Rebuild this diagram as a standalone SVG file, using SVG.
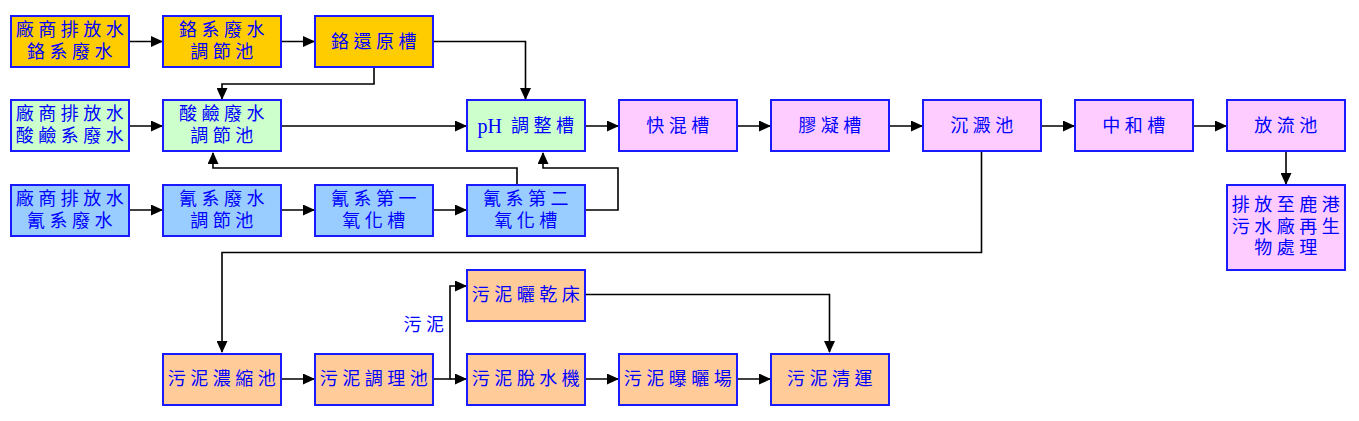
<svg xmlns="http://www.w3.org/2000/svg" width="1359" height="421" viewBox="0 0 1359 421">
<style>
.b{stroke:#1a1aff;stroke-width:2}
.cr{fill:#ffcc00}.ac{fill:#ccffcc}.cy{fill:#99ccff}.pk{fill:#ffccff}.sl{fill:#ffcc99}
text{font-family:"Liberation Serif","Noto Sans CJK TC",serif;font-size:18px;fill:#0000ff;text-anchor:middle;dominant-baseline:central;letter-spacing:4.5px}
.c path{fill:none;stroke:#000;stroke-width:1.6}
</style>
<defs>
<marker id="a" markerUnits="userSpaceOnUse" markerWidth="12" markerHeight="11" refX="11" refY="5.5" orient="auto"><path d="M0,0 L12,5.5 L0,11 Z" fill="#000"/></marker>
</defs>
<g class="c">
<path d="M129,41.5 H162" marker-end="url(#a)"/>
<path d="M281,41.5 H314" marker-end="url(#a)"/>
<path d="M433,41.5 H525.5 V99" marker-end="url(#a)"/>
<path d="M374,67 V84 H222 V99" marker-end="url(#a)"/>
<path d="M129,126 H162" marker-end="url(#a)"/>
<path d="M281,126 H466" marker-end="url(#a)"/>
<path d="M585,126 H618" marker-end="url(#a)"/>
<path d="M737,126 H770" marker-end="url(#a)"/>
<path d="M889,126 H922" marker-end="url(#a)"/>
<path d="M1041,126 H1074" marker-end="url(#a)"/>
<path d="M1193,126 H1226" marker-end="url(#a)"/>
<path d="M1286,152 V184" marker-end="url(#a)"/>
<path d="M129,210 H162" marker-end="url(#a)"/>
<path d="M281,210 H314" marker-end="url(#a)"/>
<path d="M433,210 H466" marker-end="url(#a)"/>
<path d="M517,184 V168 H213 V153" marker-end="url(#a)"/>
<path d="M585,210 H618 V168 H543 V153" marker-end="url(#a)"/>
<path d="M981.5,152 V252.5 H222 V352" marker-end="url(#a)"/>
<path d="M281,379 H314" marker-end="url(#a)"/>
<path d="M433,379 H450 V286 H466" marker-end="url(#a)"/>
<path d="M450,379 H466" marker-end="url(#a)"/>
<path d="M585,294.5 H829.5 V352" marker-end="url(#a)"/>
<path d="M585,379 H618" marker-end="url(#a)"/>
<path d="M737,379 H770" marker-end="url(#a)"/>
</g>
<g id="n1"><rect class="b cr" x="11" y="16" width="118" height="51"/><text x="72" y="30">廠商排放水</text><text x="72" y="52">鉻系廢水</text></g>
<g id="n2"><rect class="b cr" x="163" y="16" width="118" height="51"/><text x="224" y="30">鉻系廢水</text><text x="224" y="52">調節池</text></g>
<g id="n3"><rect class="b cr" x="315" y="16" width="118" height="51"/><text x="376" y="41.5">鉻還原槽</text></g>
<g id="n4"><rect class="b ac" x="11" y="100" width="118" height="51"/><text x="72" y="114">廠商排放水</text><text x="72" y="136">酸鹼系廢水</text></g>
<g id="n5"><rect class="b ac" x="163" y="100" width="118" height="51"/><text x="224" y="114">酸鹼廢水</text><text x="224" y="136">調節池</text></g>
<g id="n6"><rect class="b ac" x="467" y="100" width="118" height="51"/><text x="528" y="125.5"><tspan letter-spacing="0" font-size="20">pH</tspan><tspan dx="9">調整槽</tspan></text></g>
<g id="n7"><rect class="b pk" x="619" y="100" width="118" height="51"/><text x="680" y="125.5">快混槽</text></g>
<g id="n8"><rect class="b pk" x="771" y="100" width="118" height="51"/><text x="832" y="125.5">膠凝槽</text></g>
<g id="n9"><rect class="b pk" x="923" y="100" width="118" height="51"/><text x="984" y="125.5">沉澱池</text></g>
<g id="n10"><rect class="b pk" x="1075" y="100" width="118" height="51"/><text x="1136" y="125.5">中和槽</text></g>
<g id="n11"><rect class="b pk" x="1227" y="100" width="118" height="51"/><text x="1288" y="125.5">放流池</text></g>
<g id="n12"><rect class="b pk" x="1227" y="185" width="118" height="85"/><text x="1288" y="205">排放至鹿港</text><text x="1288" y="226.5">污水廠再生</text><text x="1288" y="248">物處理</text></g>
<g id="n13"><rect class="b cy" x="11" y="185" width="118" height="51"/><text x="72" y="199">廠商排放水</text><text x="72" y="221">氰系廢水</text></g>
<g id="n14"><rect class="b cy" x="163" y="185" width="118" height="51"/><text x="224" y="199">氰系廢水</text><text x="224" y="221">調節池</text></g>
<g id="n15"><rect class="b cy" x="315" y="185" width="118" height="51"/><text x="376" y="199">氰系第一</text><text x="376" y="221">氧化槽</text></g>
<g id="n16"><rect class="b cy" x="467" y="185" width="118" height="51"/><text x="528" y="199">氰系第二</text><text x="528" y="221">氧化槽</text></g>
<g id="n17"><rect class="b sl" x="163" y="354" width="118" height="51"/><text x="224" y="379">污泥濃縮池</text></g>
<g id="n18"><rect class="b sl" x="315" y="354" width="118" height="51"/><text x="376" y="379">污泥調理池</text></g>
<g id="n19"><rect class="b sl" x="467" y="270" width="118" height="51"/><text x="528" y="294.5">污泥曬乾床</text></g>
<g id="n20"><rect class="b sl" x="467" y="354" width="118" height="51"/><text x="528" y="379">污泥脫水機</text></g>
<g id="n21"><rect class="b sl" x="619" y="354" width="118" height="51"/><text x="680" y="379">污泥曝曬場</text></g>
<g id="n22"><rect class="b sl" x="771" y="354" width="118" height="51"/><text x="832" y="379">污泥清運</text></g>
<text x="426" y="325">污泥</text>
</svg>
